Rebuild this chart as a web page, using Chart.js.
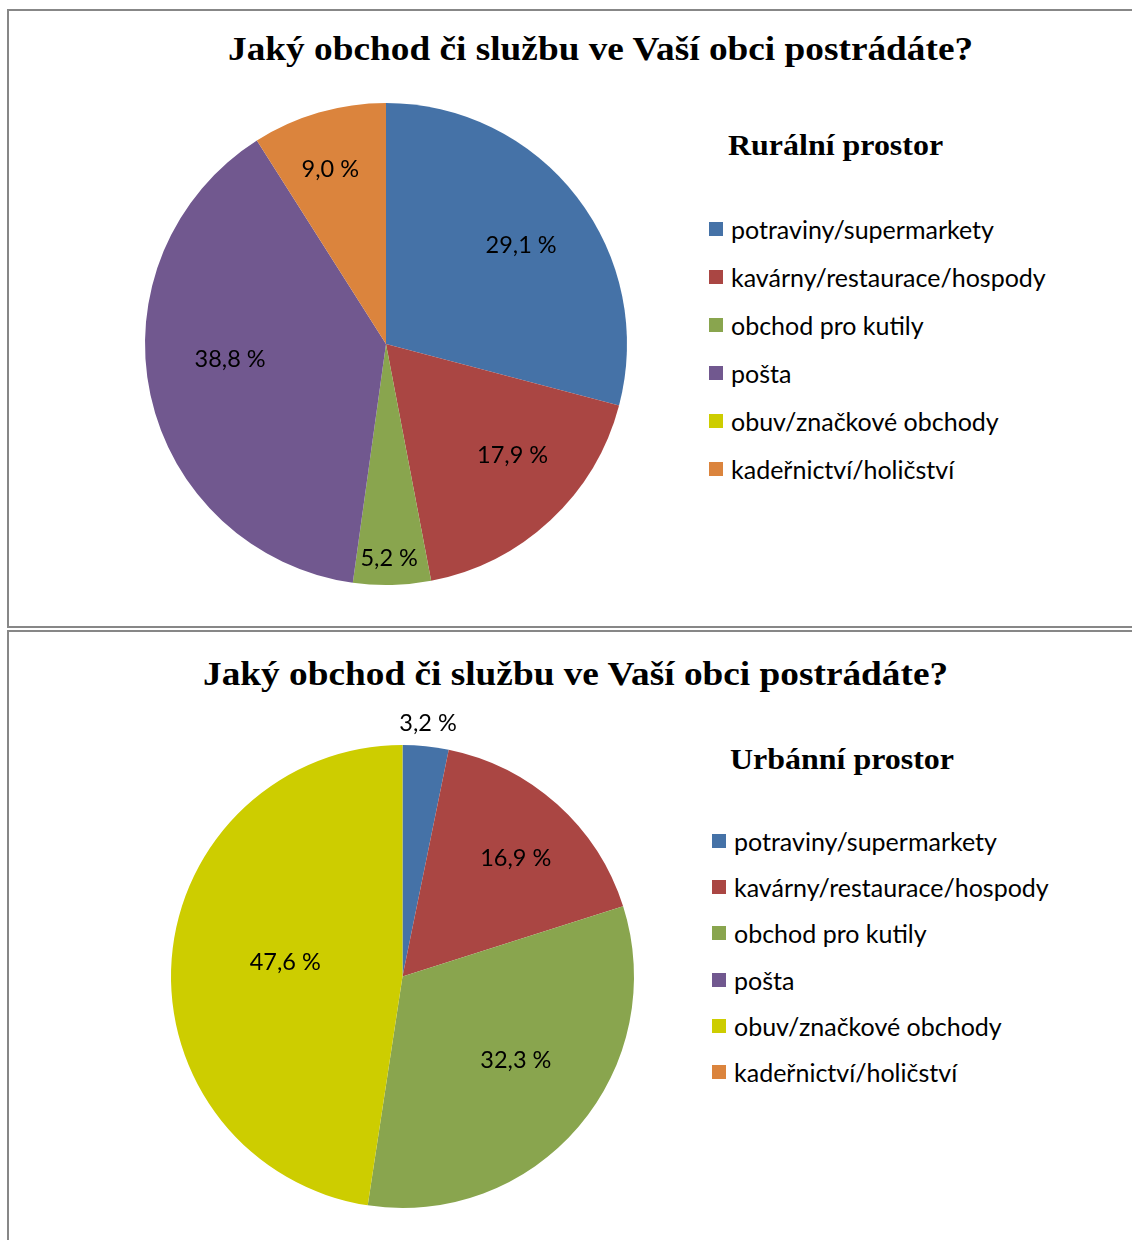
<!DOCTYPE html>
<html lang="cs">
<head>
<meta charset="UTF-8">
<title>Jaký obchod či službu ve Vaší obci postrádáte?</title>
<script src="https://cdn.jsdelivr.net/npm/chart.js"></script>
<style>
  body { margin: 0; background: #fff; width: 1132px; height: 1240px; overflow: hidden; position: relative; }
  .box { position: absolute; border: 2px solid #878787; background: #fff; }
  .title { position: absolute; font-family: "Liberation Serif", "Times New Roman", serif; font-weight: bold;
           font-size: 34px; white-space: nowrap; color: #000; transform: scaleX(1.097); }
  .ltitle { position: absolute; font-family: "Liberation Serif", "Times New Roman", serif; font-weight: bold;
            font-size: 30px; white-space: nowrap; color: #000; transform: scaleX(1.065); transform-origin: 0 0; }
  .legend { position: absolute; font-family: Lato, "Open Sans", sans-serif; font-size: 25px; color: #000; }
  .legend div { position: absolute; white-space: nowrap; line-height: 30px; padding-left: 22px; }
  .legend span { position: absolute; left: 0; width: 14px; height: 14px; top: 8px; }
  canvas { position: absolute; }
</style>
</head>
<body>
<div class="box" style="left:7px; top:9px; width:1180px; height:615px;"></div>
<div class="box" style="left:7px; top:630px; width:1140px; height:640px;"></div>

<div class="title" id="t1" style="top:30px;">Jaký obchod či službu ve Vaší obci postrádáte?</div>
<div class="title" id="t2" style="top:655px;">Jaký obchod či službu ve Vaší obci postrádáte?</div>
<div class="ltitle" style="left:728px; top:128px;">Rurální prostor</div>
<div class="ltitle" style="left:730px; top:742px;">Urbánní prostor</div>
<div class="legend" id="leg1" style="left:709px; top:214px;"></div>
<div class="legend" id="leg2" style="left:712px; top:826px;"></div>

<canvas id="rural" width="562" height="562" style="left:105px; top:63px;"></canvas>
<canvas id="urban" width="543" height="543" style="left:131px; top:705px;"></canvas>

<script>
const categories = ["potraviny/supermarkety", "kavárny/restaurace/hospody", "obchod pro kutily",
                    "pošta", "obuv/značkové obchody", "kadeřnictví/holičství"];
const ruralValues = [29.1, 17.9, 5.2, 38.8, 0, 9.0];
const urbanValues = [3.2, 16.9, 32.3, 0, 47.6, 0];
const colors = ["#4572A7", "#AA4643", "#89A54E", "#71588F", "#CDCD00", "#DB843D"];

// label placement: share of the radius, and a small turn (degrees) off the slice middle
const ruralLabelPos = [0.695, 0.70, 0.89, 0.65, 0, 0.76];
const ruralLabelTurn = [1.4, -5.6, 0.6, 6.7, 0, -1.5];
const urbanLabelPos = [1.10, 0.706, 0.61, 0, 0.51, 0];
const urbanLabelTurn = [0, 1.9, -3.9, 0, 2.5, 0];

// centre the titles on their boxes
function centre(id, mid) {
  const el = document.getElementById(id);
  el.style.left = (mid - el.offsetWidth / 2) + "px";
}
centre("t1", 600);
centre("t2", 575.5);

const sliceLabels = {
  id: "sliceLabels",
  afterDatasetsDraw(chart, args, opts) {
    const ctx = chart.ctx;
    const meta = chart.getDatasetMeta(0);
    const vals = chart.data.datasets[0].data;
    ctx.save();
    ctx.font = "23.5px Lato, 'Open Sans', sans-serif";
    ctx.fillStyle = "#000";
    ctx.textAlign = "center";
    ctx.textBaseline = "middle";
    meta.data.forEach((arc, i) => {
      if (!vals[i]) return;
      const p = arc.getProps(["x", "y", "startAngle", "endAngle", "outerRadius"]);
      const a = (p.startAngle + p.endAngle) / 2 + opts.turn[i] * Math.PI / 180;
      const r = p.outerRadius * opts.pos[i];
      ctx.fillText(vals[i].toFixed(1).replace(".", ",") + " %", p.x + Math.cos(a) * r, p.y + Math.sin(a) * r);
    });
    ctx.restore();
  }
};

function makePie(id, values, labelPos, labelTurn) {
  return new Chart(document.getElementById(id), {
    type: "pie",
    data: {
      labels: categories,
      datasets: [{ data: values, backgroundColor: colors, borderWidth: 0 }]
    },
    options: {
      responsive: false,
      animation: false,
      layout: { padding: 40 },
      plugins: {
        legend: { display: false },
        tooltip: { enabled: false },
        sliceLabels: { pos: labelPos, turn: labelTurn }
      }
    },
    plugins: [sliceLabels]
  });
}

function makeLegend(id, step) {
  const el = document.getElementById(id);
  categories.forEach((c, i) => {
    const row = document.createElement("div");
    row.style.top = (i * step) + "px";
    row.innerHTML = '<span style="background:' + colors[i] + '"></span>' + c;
    el.appendChild(row);
  });
}

makePie("rural", ruralValues, ruralLabelPos, ruralLabelTurn);
makePie("urban", urbanValues, urbanLabelPos, urbanLabelTurn);
makeLegend("leg1", 48);
makeLegend("leg2", 46.2);
</script>
</body>
</html>
